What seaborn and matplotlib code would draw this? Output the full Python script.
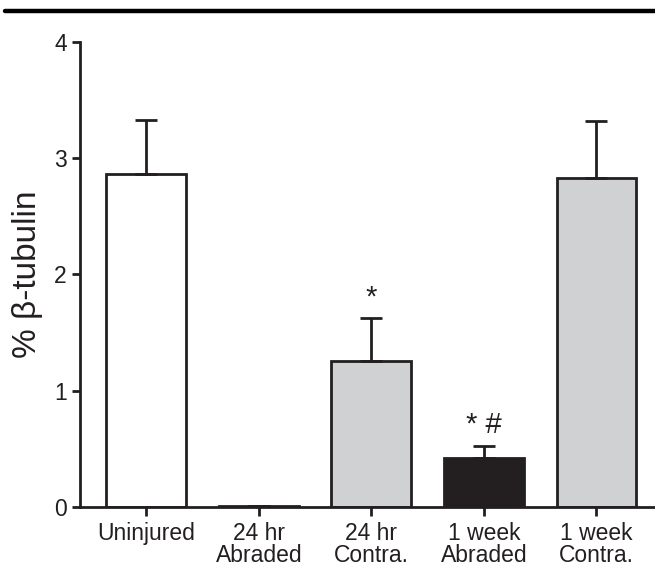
import matplotlib
matplotlib.use("Agg")
import matplotlib.pyplot as plt
from matplotlib.lines import Line2D
import seaborn as sns
import pandas as pd
import numpy as np

categories = ["Uninjured", "24 hr\nAbraded", "24 hr\nContra.", "1 week\nAbraded", "1 week\nContra."]
means = [2.865, 0.012, 1.256, 0.42, 2.83]
sems = [0.465, 0.0, 0.365, 0.105, 0.49]
marks = ["", "", "*", "* #", ""]
colors = ["#ffffff", "#ffffff", "#d0d1d3", "#231f20", "#d0d1d3"]

sns.set_style("ticks")
plt.rcParams["font.family"] = ["Liberation Sans", "DejaVu Sans"]

ink = "#231f20"
df = pd.DataFrame({"group": categories, "value": means})

fig = plt.figure(figsize=(6.55, 5.72), dpi=100)
ax = fig.add_axes([0.122, 0.1136, 0.878, 0.8134])

sns.barplot(data=df, x="group", y="value", hue="group", palette=colors,
            legend=False, errorbar=None, width=0.71, edgecolor=ink,
            linewidth=2.0, ax=ax, saturation=1)

xs = np.arange(len(categories))
ax.errorbar(xs, means, yerr=[np.zeros(len(sems)), sems], fmt="none",
            ecolor=ink, elinewidth=2.0, capsize=8, capthick=2.0, zorder=1)

for x, m, s, t in zip(xs, means, sems, marks):
    if t:
        ax.text(x, m + s + 0.06, t, ha="center", va="bottom", fontsize=21,
                color=ink)

ax.set_ylim(0, 4)
ax.set_xlim(-0.59, 4.52)
ax.set_yticks([0, 1, 2, 3, 4])
ax.set_xlabel("")
ax.set_ylabel("% β-tubulin", fontsize=24, color=ink, labelpad=8)
ax.tick_params(axis="both", colors=ink, labelcolor=ink, labelsize=16.5,
               width=2.0, direction="out")
ax.tick_params(axis="y", pad=3.5, length=6)
ax.tick_params(axis="x", pad=4, length=6.5)
for lab in ax.get_xticklabels():
    lab.set_linespacing(0.95)
for side in ["top", "right"]:
    ax.spines[side].set_visible(False)
for side in ["left", "bottom"]:
    ax.spines[side].set_linewidth(2.0)
    ax.spines[side].set_color(ink)

fig.add_artist(Line2D([0.008, 1.0], [0.981, 0.981], color="black", linewidth=3.2,
                      transform=fig.transFigure))

fig.savefig("out.png", dpi=100)
